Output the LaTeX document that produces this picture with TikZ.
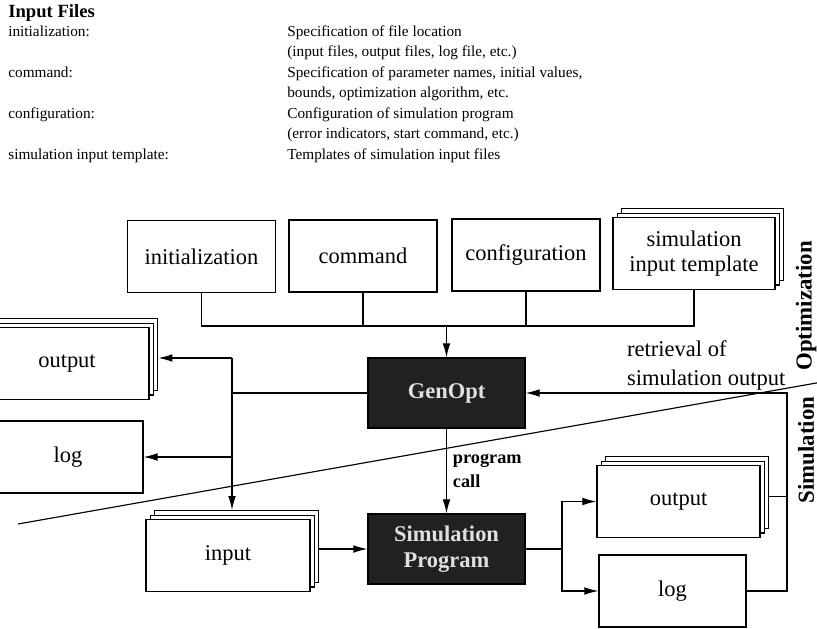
\documentclass[tikz,border=0pt]{standalone}
\usepackage{fontspec}
\setmainfont{Liberation Serif}
\usepackage{tikz}
\usetikzlibrary{arrows.meta, positioning, calc, shadows}

\tikzset{
  filebox/.style={draw, fill=white, line width=0.7pt, minimum width=2.96cm,
    minimum height=1.44cm, align=center, inner sep=2pt,
    font=\fontsize{12.8}{14}\selectfont},
  filestack/.style={filebox,
    copy shadow={shadow xshift=5pt, shadow yshift=5pt},
    copy shadow={shadow xshift=2.5pt, shadow yshift=2.5pt}},
  progbox/.style={draw, fill=black!87, text=black!12, line width=0.7pt,
    minimum width=3.14cm, minimum height=1.4cm, align=center,
    font=\fontsize{12.8}{14.5}\selectfont\bfseries},
  hdrtext/.style={anchor=base west, inner sep=0pt, font=\fontsize{8.7}{11.6}\selectfont},
  flow/.style={-{Latex[length=8pt, width=4.4pt]}, line width=0.65pt},
  link/.style={line width=0.65pt},
  sidetext/.style={rotate=90, font=\fontsize{13}{15}\selectfont\bfseries}
}

\begin{document}
\begin{tikzpicture}[x=0.02cm, y=-0.02cm]
  \useasboundingbox (0,0) rectangle (817,628);

  % list of input files
  \node[hdrtext, font=\fontsize{10.6}{12}\selectfont\bfseries] (hdr) at (8,18) {Input Files};
  \node[hdrtext] (k1) at (8,36.5) {initialization:};
  \node[hdrtext] (k2) at (8,77.5) {command:};
  \node[hdrtext] (k3) at (8,118.5) {configuration:};
  \node[hdrtext] (k4) at (8,159.5) {simulation input template:};
  \node[hdrtext] (d1) at (287,36.5) {Specification of file location};
  \node[hdrtext] (d1b) at (287,57) {(input files, output files, log file, etc.)};
  \node[hdrtext] (d2) at (287,77.5) {Specification of parameter names, initial values,};
  \node[hdrtext] (d2b) at (287,98) {bounds, optimization algorithm, etc.};
  \node[hdrtext] (d3) at (287,118.5) {Configuration of simulation program};
  \node[hdrtext] (d3b) at (287,139) {(error indicators, start command, etc.)};
  \node[hdrtext] (d4) at (287,159.5) {Templates of simulation input files};

  % boundary between optimization and simulation
  \coordinate (divL) at (18,524);
  \coordinate (divR) at (822,382);
  \draw[link] (divL) -- (divR);
  \node[sidetext] (optlbl) at (806,306) {Optimization};
  \node[sidetext] (simlbl) at (806,450) {Simulation};

  % input files
  \node[filebox] (init) at (201.5,256.5) {initialization};
  \node[filebox] (cmd) at (363,256) {command};
  \node[filebox] (conf) at (526,255) {configuration};
  \node[filestack, minimum width=3.24cm] (tpl) at (694,253.5) {simulation\\input template};

  % programs
  \node[progbox] (genopt) at (446.5,393) {GenOpt};
  \node[progbox] (sim) at (446.5,549) {Simulation\\Program};

  % files of the optimization
  \node[filestack, minimum width=3.28cm] (outL) at (67,363.5) {output};
  \node[filebox, minimum width=3.0cm] (logL) at (68,457) {log};

  % files of the simulation
  \node[filestack, minimum width=3.28cm] (inp) at (228,555.5) {input};
  \node[filestack, minimum width=3.26cm] (outR) at (678.5,501.5) {output};
  \node[filebox, minimum width=2.94cm] (logR) at (672.5,591) {log};

  % input files to GenOpt
  \coordinate (busy) at (0,326);
  \draw[link] (init.south) |- (tpl.south |- busy) -- (tpl.south);
  \draw[link] (cmd.south) -- (cmd.south |- busy);
  \draw[link] (conf.south) -- (conf.south |- busy);
  \draw[flow] (genopt.north |- busy) -- (genopt.north);

  % GenOpt writes files
  \coordinate (tap) at (232,358);
  \draw[link] (genopt.west) -- (genopt.west -| tap);
  \draw[flow] (tap) -- ([xshift=5pt]outL.east |- tap);
  \draw[flow] (logL.east -| tap) -- (logL.east);
  \draw[flow] (tap) -- ([yshift=5pt]tap |- inp.north);
  \draw[flow] ([xshift=5pt]inp.east |- sim.west) -- (sim.west);

  % program call
  \draw[flow] (genopt.south) -- node[right, align=left,
    font=\fontsize{10.4}{14}\selectfont\bfseries] (call) {program\\call} (sim.north);

  % simulation output
  \coordinate (fork) at (562,549);
  \draw[link] (sim.east) -- (fork);
  \draw[flow] (fork) |- (outR.west);
  \draw[flow] (fork) |- (logR.west);

  % retrieval of simulation output
  \coordinate (ret) at (787,0);
  \draw[link] ([xshift=5pt,yshift=3pt]outR.east) -- ([yshift=3pt]outR.east -| ret);
  \draw[flow] (logR.east) -| (ret |- genopt.east) -- (genopt.east);
  \node[anchor=south west, align=left, font=\fontsize{12.8}{16}\selectfont] (retr)
    at (621,396) {retrieval of\\simulation output};
\end{tikzpicture}
\end{document}
